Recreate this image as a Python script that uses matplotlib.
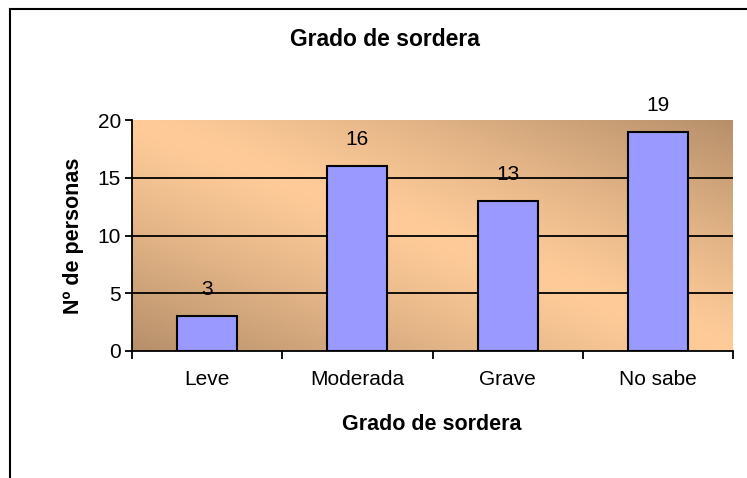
import numpy as np
import matplotlib
matplotlib.use('Agg')
import matplotlib.pyplot as plt
from matplotlib.patches import Rectangle

plt.rcParams['font.family'] = ['Liberation Sans', 'DejaVu Sans']

# datos
categorias = ['Leve', 'Moderada', 'Grave', 'No sabe']
personas = [3, 16, 13, 19]
yticks = [0, 5, 10, 15, 20]

W, H = 747, 478
fig = plt.figure(figsize=(W / 100, H / 100), dpi=100)

# borde del grafico
fig.patches.append(Rectangle((10 / W, -0.1), 1.2, (H - 9) / H + 0.1, transform=fig.transFigure,
                             fill=False, edgecolor='black', linewidth=1.5))

ax = fig.add_axes([132 / W, 1 - 351 / H, (733 - 132) / W, (351 - 120) / H])
ax.set_xlim(-0.5, 3.5)
ax.set_ylim(0, 20)

# fondo degradado (claro en la diagonal, oscuro en las esquinas)
nx, ny = 300, 120
xf = np.linspace(0, 1, nx)[None, :]
yf = np.linspace(0, 1, ny)[:, None]
t = np.abs(xf - yf) ** 1.2
light = np.array([255, 204, 153]) / 255
dark = np.array([182, 143, 106]) / 255
img = light[None, None, :] * (1 - t[..., None]) + dark[None, None, :] * t[..., None]
ax.imshow(img, extent=(-0.5, 3.5, 0, 20), aspect='auto', origin='upper', zorder=0)

for v in [5, 10, 15]:
    ax.axhline(v, color='black', linewidth=1.3, zorder=1)

x = np.arange(len(categorias))
bars = ax.bar(x, personas, width=0.4, color='#9999FF', edgecolor='black', linewidth=1.5, zorder=2)

for xi, v in zip(x, personas):
    ax.annotate(str(v), (xi, v), xytext=(0, 19), textcoords='offset points',
                ha='center', va='center', fontsize=15, zorder=3)

ax.spines['top'].set_visible(False)
ax.spines['right'].set_visible(False)
ax.spines['left'].set_linewidth(1.3)
ax.spines['bottom'].set_linewidth(1.3)

ax.set_yticks(yticks)
ax.tick_params(axis='y', direction='out', length=5, width=1.3, labelsize=15, pad=3)
ax.set_xticks(x)
ax.set_xticklabels(categorias)
ax.set_xticks(np.arange(-0.5, 4, 1), minor=True)
ax.tick_params(axis='x', which='major', length=0, labelsize=15, pad=14)
ax.tick_params(axis='x', which='minor', direction='out', length=6, width=1.3)

fig.text(385 / W, 1 - 40 / H, 'Grado de sordera', ha='center', va='center',
         fontsize=16.5, fontweight='bold')
fig.text(432 / W, 1 - 425 / H, 'Grado de sordera', ha='center', va='center',
         fontsize=15.5, fontweight='bold')
fig.text(73 / W, 1 - 236 / H, 'Nº de personas', ha='center', va='center',
         rotation=90, fontsize=15.5, fontweight='bold')

fig.savefig('out.png', dpi=100)
